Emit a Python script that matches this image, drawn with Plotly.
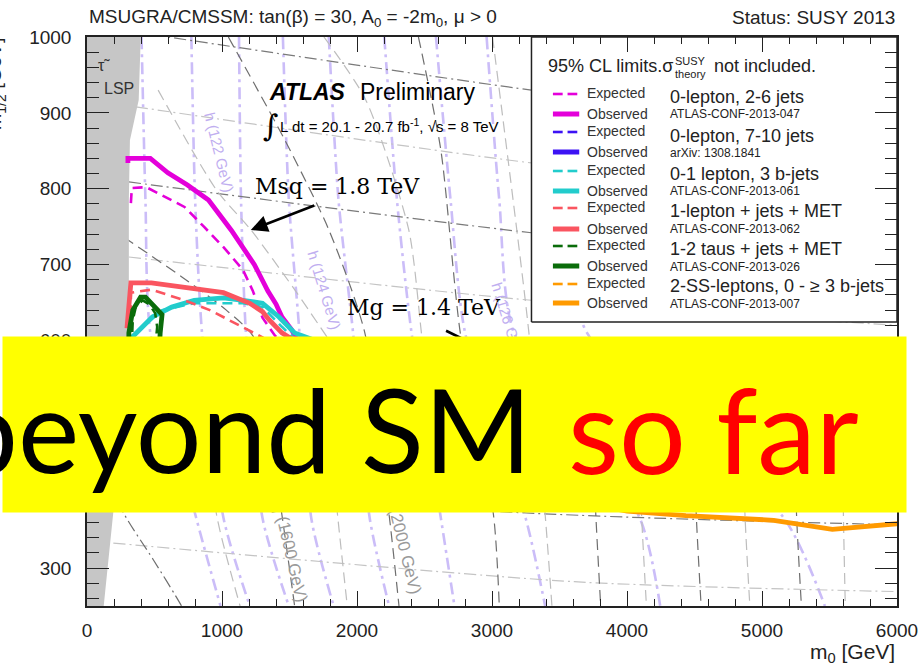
import plotly.graph_objects as go

SANS = "Liberation Sans, Arial, sans-serif"
SERIF = "DejaVu Serif, serif"
BANNER_FONT = "Lato, Open Sans, sans-serif"

# ---------------- page / plot geometry (pixels) ----------------
W, H = 923, 665
ML, MR, MT, MB = 87, 5, 37, 59
PW, PH = W - ML - MR, H - MT - MB
X_RANGE = [0, 6000]
Y_RANGE = [250, 1000]


def px(x):
    """pixel column -> paper x"""
    return (x - ML) / PW


def py(y):
    """pixel row -> paper y"""
    return (H - MB - y) / PH


def to_m0(x):
    return X_RANGE[0] + (x - ML) / PW * (X_RANGE[1] - X_RANGE[0])


def to_m12(y):
    return Y_RANGE[1] - (y - MT) / PH * (Y_RANGE[1] - Y_RANGE[0])


# ---------------- exclusion limits, (m0, m1/2) in GeV ----------------
# 0-lepton, 2-6 jets
j26_exp_m0 = [325, 332, 440, 578, 722, 866, 1011, 1155, 1227, 1260, 1300, 1394, 1700, 2500, 3500, 4500, 5500, 6100]
j26_exp_m12 = [781, 801, 802, 789, 776, 750, 723, 693, 666, 650, 630, 606, 560, 490, 440, 415, 404, 401]
j26_obs_m0 = [303, 303, 469, 599, 744, 900, 1070, 1240, 1340, 1400, 1444, 1516, 1560, 1800, 2500, 3500, 4500, 5500, 6100]
j26_obs_m12 = [834, 840, 840, 821, 805, 785, 745, 700, 665, 648, 631, 614, 600, 565, 500, 450, 420, 400, 394]

# 0-lepton, 7-10 jets
j710_exp_m0 = [300, 1000, 2000, 3000, 4000, 5000, 6100]
j710_exp_m12 = [580, 565, 525, 480, 455, 440, 435]
j710_obs_m0 = [300, 1000, 2000, 3000, 4000, 5000, 6100]
j710_obs_m12 = [590, 575, 520, 470, 440, 425, 419]

# 0-1 lepton, 3 b-jets
b3_exp_m0 = [320, 361, 556, 794, 1155, 1300, 1444, 1550, 2000, 3000, 4000, 5000, 6100]
b3_exp_m12 = [590, 610, 640, 649, 649, 644, 618, 600, 575, 545, 525, 513, 507]
b3_obs_m0 = [300, 339, 484, 628, 794, 1011, 1155, 1300, 1422, 1538, 2000, 3000, 4000, 5000, 6100]
b3_obs_m12 = [585, 605, 631, 644, 653, 656, 653, 649, 631, 610, 580, 550, 530, 518, 512]

# 1-lepton + jets + MET
l1_exp_m0 = [325, 325, 477, 722, 910, 1054, 1155, 1300, 1700, 2500, 3500, 4500, 5500, 6100]
l1_exp_m12 = [612, 663, 667, 653, 640, 627, 617, 604, 560, 510, 480, 465, 458, 456]
l1_obs_m0 = [296, 325, 477, 722, 1011, 1206, 1300, 1350, 1444, 1800, 2500, 3500, 4500, 5500, 6100]
l1_obs_m12 = [616, 676, 676, 670, 663, 649, 638, 627, 610, 570, 530, 505, 490, 482, 479]

# 1-2 taus + jets + MET
tau_exp_m0 = [330, 339, 361, 412, 460, 505, 520, 500, 400, 330]
tau_exp_m12 = [590, 627, 644, 653, 648, 636, 618, 580, 570, 590]
tau_obs_m0 = [310, 310, 339, 397, 433, 505, 556, 542, 530, 430, 330, 310]
tau_obs_m12 = [590, 610, 640, 657, 657, 644, 634, 610, 570, 550, 565, 590]

# 2-SS-leptons, 0 - >=3 b-jets
ss_exp_m0 = [300, 1000, 2000, 3000, 4000, 5000, 6100]
ss_exp_m12 = [580, 550, 495, 445, 405, 388, 380]
ss_obs_m0 = [300, 1000, 2000, 3000, 3700, 4002, 4436, 5087, 5521, 5800, 6100]
ss_obs_m12 = [570, 540, 480, 420, 385, 375, 369, 363, 351, 356, 360]

analysis_names = ["0-lepton, 2-6 jets", "0-lepton, 7-10 jets", "0-1 lepton, 3 b-jets",
                  "1-lepton + jets + MET", "1-2 taus + jets + MET", "2-SS-leptons, 0 - \u2265 3 b-jets"]
analysis_refs = ["ATLAS-CONF-2013-047", "arXiv: 1308.1841", "ATLAS-CONF-2013-061",
                 "ATLAS-CONF-2013-062", "ATLAS-CONF-2013-026", "ATLAS-CONF-2013-007"]
analysis_colors = ["#e400da", "#3c12f4", "#22cccc", "#fa5560", "#0a6c0a", "#ff9a00"]

# ---------------- theory contours (m0, m1/2) ----------------
# stau-LSP boundary
lsp_m0 = [0, 402, 398, 383, 318, 310, 310, 274, 195, 152, 123, 118, 0]
lsp_m12 = [1010, 1010, 1000, 917, 864, 785, 653, 495, 374, 295, 250, 240, 240]

# Higgs-mass contours, m0 sampled at fixed m1/2
higgs_m12 = [1000, 785, 610, 366, 250]
higgs_m0 = [
    [404, 433, 469, 809, 989],
    [773, 801, 852, 1011, 1206],
    [1126, 1141, 1177, 1300, 1495],
    [1451, 1495, 1574, 1661, 1827],
    [1791, 1863, 1971, 2094, 2238],
    [2202, 2296, 2404, 2621, 2722],
    [2585, 2693, 2801, 3249, 3394],
    [2960, 3054, 3162, 4094, 4246],
    [3343, 3487, 3704, 5162, 5466],
]

# gluino-mass contours (dash-dot)
gluino_m0 = [[0, 3292, 6000], [361, 3292, 6000], [310, 3292, 6000], [310, 3292, 6000],
             [310, 3292, 6000], [310, 2838, 6000], [195, 3610, 6000]]
gluino_m12 = [[1016, 930, 871], [908, 834, 785], [809, 742, 696], [710, 653, 620],
              [587, 535, 502], [429, 377, 357], [333, 282, 269]]
gluino_dark = [True, False, True, False, False, True, False]

# squark-mass contours (dashed)
squark_m0 = [
    [527, 960, 1213, 1538, 1791],
    [274, 700, 1032, 1250, 1444, 1538],
    [1047, 1466, 1791, 2058, 2238, 2311],
    [1755, 2065, 2383, 2477, 2549],
    [2455, 2621, 2765, 3011, 3054],
    [3004, 3271, 3394, 3444],
    [888, 960, 1134],
    [1791, 1856, 1928],
    [3740, 3769, 3805],
    [4087, 4108, 4144],
    [4491, 4513, 4549],
    [4859, 4874, 4910],
    [5242, 5256, 5292],
    [5596, 5603, 5617],
]
squark_m12 = [
    [930, 798, 746, 667, 601],
    [736, 684, 640, 600, 370, 250],
    [1000, 864, 746, 610, 370, 250],
    [1000, 917, 746, 610, 495],
    [1000, 851, 610, 370, 250],
    [1000, 614, 370, 250],
    [495, 370, 250],
    [495, 370, 250],
    [495, 370, 250],
    [495, 370, 250],
    [495, 370, 250],
    [495, 370, 250],
    [495, 370, 250],
    [495, 370, 250],
]
squark_dark = [False, True, True, False, True, False, False, False, True, False, True, False, True, False]

# low-mass contour (dark dash-dot)
low_m0 = [58, 267, 491, 700, 744]
low_m12 = [469, 374, 311, 250, 232]

fig = go.Figure()


def bg_line(x, y, color, dash, width=1.2, shape="spline"):
    fig.add_trace(go.Scatter(x=x, y=y, mode="lines", hoverinfo="skip", showlegend=False,
                             line=dict(color=color, width=width, dash=dash, shape=shape, smoothing=0.7)))


LAVENDER = "rgb(203,189,248)"
for m0s in higgs_m0:
    bg_line(m0s, higgs_m12, LAVENDER, "12px,5px,3px,5px", width=2.6)
for xs, ys, dark in zip(gluino_m0, gluino_m12, gluino_dark):
    bg_line(xs, ys, "#7a7a7a" if dark else "#c4c4c4", "12px,4px,2px,4px")
for xs, ys, dark in zip(squark_m0, squark_m12, squark_dark):
    bg_line(xs, ys, "#6e6e6e" if dark else "#bdbdbd", "11px,6px")
bg_line(low_m0, low_m12, "#6e6e6e", "12px,4px,2px,4px")

# stau LSP region
fig.add_trace(go.Scatter(x=lsp_m0, y=lsp_m12, mode="lines", fill="toself", fillcolor="#c6c6c6",
                         line=dict(width=0, color="#c6c6c6"), hoverinfo="skip", showlegend=False))

# exclusion curves
curves = [
    (j26_exp_m0, j26_exp_m12, j26_obs_m0, j26_obs_m12),
    (j710_exp_m0, j710_exp_m12, j710_obs_m0, j710_obs_m12),
    (b3_exp_m0, b3_exp_m12, b3_obs_m0, b3_obs_m12),
    (l1_exp_m0, l1_exp_m12, l1_obs_m0, l1_obs_m12),
    (tau_exp_m0, tau_exp_m12, tau_obs_m0, tau_obs_m12),
    (ss_exp_m0, ss_exp_m12, ss_obs_m0, ss_obs_m12),
]
for (ex, ey, ox, oy), name, col in zip(curves, analysis_names, analysis_colors):
    fig.add_trace(go.Scatter(x=ex, y=ey, mode="lines", name=name + " expected", showlegend=False,
                             line=dict(color=col, width=2.6, dash="10px,6px")))
    fig.add_trace(go.Scatter(x=ox, y=oy, mode="lines", name=name + " observed", showlegend=False,
                             line=dict(color=col, width=4.8)))

# legend panel (white box under the axis frame)
bx0, bx1 = to_m0(543), X_RANGE[1]
by0, by1 = to_m12(322), Y_RANGE[1]
fig.add_trace(go.Scatter(x=[bx0, bx1, bx1, bx0, bx0], y=[by0, by0, by1, by1, by0], mode="lines",
                         fill="toself", fillcolor="white", line=dict(color="#222", width=1.5),
                         hoverinfo="skip", showlegend=False))

ann = []
shapes = []


def text(x, y, s, size, color="#222", family=SANS, xanchor="left", yanchor="middle", angle=0):
    ann.append(dict(x=px(x), y=py(y), xref="paper", yref="paper", text=s, showarrow=False,
                    font=dict(size=size, color=color, family=family),
                    xanchor=xanchor, yanchor=yanchor, textangle=angle))


# header lines
text(87, 18, "MSUGRA/CMSSM: tan(\u03b2) = 30, A<sub>0</sub> = -2m<sub>0</sub>, \u03bc > 0", 19)
text(918, 18, "Status: SUSY 2013", 19, xanchor="right")

# axis titles
text(918, 653, "m<sub>0</sub> [GeV]", 21, xanchor="right")
text(-6, 84, "m<sub>1/2</sub> [GeV]", 20, xanchor="center", angle=-90)

# in-plot labels
text(104, 66, "\u03c4\u0303", 16, color="#333", xanchor="center")
text(102, 88, "LSP", 16, color="#333")
text(272, 92, "<b><i>ATLAS</i></b>", 23, color="black")
text(365, 92, "Preliminary", 23, color="black")
text(276, 126, "\u222b", 30, color="black", family=SERIF, xanchor="center")
text(283, 125, "L dt = 20.1 - 20.7 fb<sup>-1</sup>, \u221as = 8 TeV", 15, color="black")
text(257, 186, "Msq = 1.8 TeV", 22, color="black", family=SERIF)
text(352, 307, "Mg = 1.4 TeV", 22, color="black", family=SERIF)

text(223, 152, "h (122 GeV)", 15, color="#bfaef0", xanchor="center", angle=76)
text(331, 290, "h (124 GeV)", 15, color="#bfaef0", xanchor="center", angle=73)
text(520, 322, "h (126 GeV)", 15, color="#bfaef0", xanchor="center", angle=73)
text(296, 552, "q\u0303 (1600 GeV)", 17, color="#9a9a9a", xanchor="center", angle=77)
text(412, 544, "q\u0303 (2000 GeV)", 17, color="#9a9a9a", xanchor="center", angle=76)

# arrows
ann.append(dict(x=px(255), y=py(230), xref="paper", yref="paper", ax=65, ay=-25, text="",
                showarrow=True, arrowhead=2, arrowsize=1.3, arrowwidth=2.6, arrowcolor="black", standoff=0))
ann.append(dict(x=px(500), y=py(352), xref="paper", yref="paper", ax=-45, ay=-22, text="",
                showarrow=True, arrowhead=2, arrowsize=1.3, arrowwidth=2.6, arrowcolor="black", standoff=0))

# legend contents
text(558, 66, "95% CL limits.\u03c3", 18)
text(688, 61, "SUSY", 11)
text(688, 74, "theory", 11)
text(728, 66, "not included.", 18)

exp_rows = [93, 131, 170, 207, 245, 283]
obs_rows = [114, 152, 191, 229, 266, 303]
name_rows = [97, 136, 174, 211, 249, 286]
ref_rows = [114, 153, 191, 229, 267, 304]
for i, col in enumerate(analysis_colors):
    ye, yo = exp_rows[i] + 1, obs_rows[i]
    for xa, xb in ((565, 575), (580, 590)):
        shapes.append(dict(type="line", xref="paper", yref="paper", x0=px(xa), x1=px(xb),
                           y0=py(ye), y1=py(ye), line=dict(color=col, width=2.6)))
    shapes.append(dict(type="line", xref="paper", yref="paper", x0=px(565), x1=px(592),
                       y0=py(yo), y1=py(yo), line=dict(color=col, width=5)))
    text(598, exp_rows[i], "Expected", 14, color="#333")
    text(598, obs_rows[i], "Observed", 14, color="#333")
    text(683, name_rows[i], analysis_names[i], 18)
    text(683, ref_rows[i], analysis_refs[i], 12)

# banner
ann.append(dict(x=px(0), y=py(336), xref="paper", yref="paper", xanchor="left", yanchor="top",
                text=" ", showarrow=False, width=903, height=175, bgcolor="#ffff00", borderpad=0))
text(546, 428, "beyond SM", 116, color="black", family=BANNER_FONT, xanchor="right")
text(578, 428, "so far", 118, color="#ff0000", family=BANNER_FONT)

axis_common = dict(showline=True, linecolor="#222", linewidth=1.5, mirror="ticks", ticks="inside",
                   tickcolor="#222", showgrid=False, zeroline=False, ticklabeloverflow="allow",
                   tickfont=dict(family=SANS, size=19, color="#222"))
fig.update_xaxes(range=X_RANGE, tick0=0, dtick=1000, ticklen=15, tickwidth=1.4, ticklabelstandoff=6,
                 minor=dict(ticks="inside", dtick=200, ticklen=7, tickwidth=1.2, tickcolor="#222", showgrid=False),
                 **axis_common)
fig.update_yaxes(range=Y_RANGE, tick0=0, dtick=100, ticklen=22, tickwidth=1.4, ticklabelstandoff=10,
                 minor=dict(ticks="inside", dtick=20, ticklen=12, tickwidth=1.2, tickcolor="#222", showgrid=False),
                 **axis_common)

fig.update_layout(width=W, height=H, autosize=False, showlegend=False,
                  margin=dict(l=ML, r=MR, t=MT, b=MB, pad=0),
                  plot_bgcolor="white", paper_bgcolor="white",
                  annotations=ann, shapes=shapes, hovermode=False)

fig.write_html("out.html", config={"displayModeBar": False})
